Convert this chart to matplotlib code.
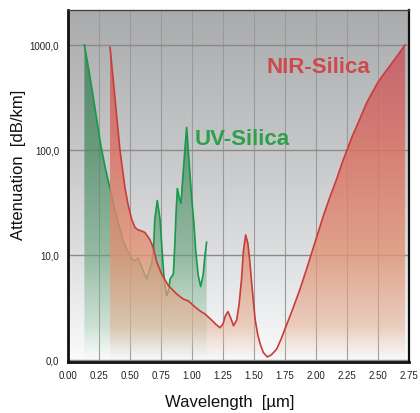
import numpy as np
import matplotlib.pyplot as plt
from matplotlib.patches import Polygon
from matplotlib.ticker import NullLocator

plt.rcParams['font.family'] = ['Liberation Sans', 'DejaVu Sans']

# UV-Silica attenuation curve (wavelength in um, attenuation in dB/km)
uv_wl = [0.132, 0.17, 0.20, 0.244, 0.266, 0.30, 0.339, 0.38, 0.419, 0.446,
         0.473, 0.513, 0.54, 0.567, 0.60, 0.635, 0.66, 0.675, 0.69, 0.70,
         0.72, 0.742, 0.76, 0.777, 0.796, 0.812, 0.823, 0.85, 0.862, 0.872,
         0.882, 0.897, 0.911, 0.93, 0.944, 0.957, 0.978, 0.997, 1.016, 1.03,
         1.05, 1.07, 1.09, 1.105, 1.118]
uv_att = [1000, 560, 340, 158, 108, 68, 43, 26, 17.7, 13.5,
          11.4, 9.2, 8.8, 9.3, 7.4, 5.9, 7.4, 8.2, 11.4, 22,
          33, 22, 10.6, 5.5, 4.1, 4.6, 5.9, 6.6, 13, 26,
          43, 35, 31, 63, 106, 164, 73, 35.5, 19.7, 11,
          6.4, 5.0, 6.5, 10, 13.2]

# NIR-Silica attenuation curve
nir_wl = [0.339, 0.36, 0.38, 0.40, 0.419, 0.44, 0.46, 0.485, 0.513, 0.54,
          0.56, 0.58, 0.60, 0.62, 0.64, 0.66, 0.675, 0.69,
          0.715, 0.755, 0.81, 0.876, 0.93, 0.97, 1.024, 1.07, 1.105, 1.15,
          1.19, 1.225, 1.25, 1.27, 1.29, 1.31, 1.335, 1.36, 1.38, 1.40,
          1.415, 1.433, 1.45, 1.465, 1.48, 1.495, 1.51, 1.53, 1.55, 1.575,
          1.607, 1.64, 1.683, 1.72, 1.76, 1.81, 1.87, 1.925, 1.99, 2.06,
          2.11, 2.167, 2.21, 2.253, 2.29, 2.33, 2.37, 2.41, 2.455, 2.50,
          2.55, 2.597, 2.66, 2.718]
nir_att = [950, 530, 300, 170, 100, 65, 43, 30, 22, 18.3,
           17.5, 17.1, 16.8, 16.4, 15.2, 14.0, 12.8, 11.4,
           8.6, 6.6, 5.1, 4.25, 3.8, 3.65, 3.2, 2.9, 2.74, 2.45,
           2.2, 2.03, 2.2, 2.65, 2.89, 2.55, 2.12, 2.4, 3.4, 6.0,
           11, 15.5, 13, 9, 5.6, 3.6, 2.4, 1.75, 1.42, 1.18,
           1.07, 1.12, 1.27, 1.6, 2.12, 3.0, 4.7, 7.4, 13, 23.7,
           35, 53, 75, 102, 133, 170, 220, 283, 355, 442,
           535, 635, 800, 1000]

x_ticks = [0.0, 0.25, 0.5, 0.75, 1.0, 1.25, 1.5, 1.75, 2.0, 2.25, 2.5, 2.75]
x_tick_labels = ['0.00', '0.25', '0.50', '0.75', '1.00', '1.25', '1.50',
                 '1.75', '2.00', '2.25', '2.50', '2.75']
y_ticks = [1, 10, 100, 1000]
y_tick_labels = ['0,0', '10,0', '100,0', '1000,0']


def gradient(stops, rgb, alpha):
    t = np.linspace(0, 1, 256)
    img = np.zeros((256, 1, 4))
    for i in range(3):
        img[:, 0, i] = np.interp(t, stops, [c[i] for c in rgb]) / 255
    img[:, 0, 3] = np.interp(t, stops, alpha)
    return img


def gradient_fill(ax, x, y, img, z):
    verts = [(x[0], 0.5)] + list(zip(x, y)) + [(x[-1], 0.5)]
    poly = Polygon(verts, closed=True, transform=ax.transData,
                   facecolor='none', edgecolor='none')
    ax.add_patch(poly)
    im = ax.imshow(img, extent=[0, 1, 0, 1], transform=ax.transAxes,
                   aspect='auto', origin='lower', interpolation='bilinear',
                   zorder=z)
    im.set_clip_path(poly)


fig = plt.figure(figsize=(4.2, 4.14), dpi=100)
ax = fig.add_axes([68 / 420, 1 - 363 / 414, 341 / 420, 352 / 414])
ax.set_yscale('log')
ax.set_xlim(0, 2.75)
ax.set_ylim(0.957, 2150)
ax.autoscale(False)

# grey-to-white background
v = [250, 222, 198, 170]
bg = gradient([0, 0.3, 0.6, 1], [(c, c + 1, c + 3) for c in v], [1, 1, 1, 1])
ax.imshow(bg, extent=[0, 1, 0, 1], transform=ax.transAxes, aspect='auto',
          origin='lower', interpolation='bilinear', zorder=0)

green_img = gradient([0, 0.1, 0.3, 0.6, 1],
                     [(200, 230, 210), (150, 200, 165), (105, 165, 125),
                      (70, 138, 95), (50, 120, 82)],
                     [0.0, 0.4, 0.62, 0.72, 0.8])
red_img = gradient([0, 0.1, 0.3, 0.6, 1],
                   [(235, 200, 180), (230, 175, 145), (225, 148, 118),
                    (218, 115, 100), (192, 82, 102)],
                   [0.0, 0.55, 0.8, 0.85, 0.88])

gradient_fill(ax, uv_wl, uv_att, green_img, 1)
ax.plot(uv_wl, uv_att, color='#16994a', lw=1.2, zorder=2)
gradient_fill(ax, nir_wl, nir_att, red_img, 3)
ax.plot(nir_wl, nir_att, color='#c83c3c', lw=1.2, zorder=4)

ax.text(1.024, 114, 'UV-Silica', color='#2ca04a', fontsize=16,
        fontweight='bold', ha='left', va='baseline', zorder=5)
ax.text(1.602, 557, 'NIR-Silica', color='#cd4a4a', fontsize=16,
        fontweight='bold', ha='left', va='baseline', zorder=5)

ax.set_xticks(x_ticks)
ax.set_xticklabels(x_tick_labels)
ax.set_yticks(y_ticks)
ax.set_yticklabels(y_tick_labels)
ax.yaxis.set_minor_locator(NullLocator())
ax.tick_params(axis='x', length=0, labelsize=7, colors='#222222', pad=5.5)
ax.tick_params(axis='y', length=0, labelsize=7, colors='#222222', pad=6.5)
ax.set_axisbelow(True)
ax.xaxis.grid(True, color='#9a9a9a', lw=0.8)
ax.yaxis.grid(True, color='#8a8a8a', lw=1.0)

for side in ['left', 'bottom']:
    ax.spines[side].set_linewidth(2)
    ax.spines[side].set_color('#111111')
ax.spines['right'].set_linewidth(1.6)
ax.spines['right'].set_color('#111111')
ax.spines['top'].set_linewidth(1)
ax.spines['top'].set_color('#444444')

fig.text(230 / 420, 1 - 403 / 414, 'Wavelength  [µm]', fontsize=12,
         ha='center', va='center', color='#111111')
fig.text(19 / 420, 1 - 165 / 414, 'Attenuation  [dB/km]', fontsize=12,
         ha='center', va='center', rotation=90, color='#111111')

fig.savefig('out.png', dpi=100)
